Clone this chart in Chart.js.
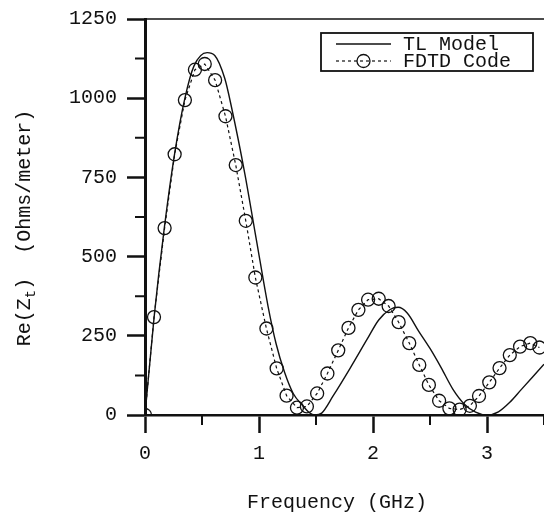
<!DOCTYPE html>
<html><head><meta charset="utf-8">
<script src="https://cdn.jsdelivr.net/npm/chart.js@4.4.1/dist/chart.umd.min.js"></script>
<style>html,body{margin:0;padding:0;background:#fff}#wrap{width:544px;height:517px;position:relative}</style>
</head><body><div id="wrap"><canvas id="c"></canvas></div>
<script>
// ---- data ----
const tlFreq = [0,0.08,0.17,0.26,0.35,0.43,0.545,0.612,0.70,0.758,0.875,0.977,1.079,1.15,1.225,1.3,1.385,1.44,1.49,1.55,1.65,1.8,1.95,2.05,2.15,2.22,2.3,2.4,2.5,2.6,2.7,2.8,2.9,3.0,3.1,3.2,3.3,3.4,3.5];
const tlRe   = [0,309,592,825,1000,1102,1144,1135,1062,973,763,553,344,225,134,68,29,8,0,6,60,148,240,300,333,340,322,265,210,148,82,35,9,0,10,40,80,120,160];
const fdtdFreq = [0,0.079,0.172,0.26,0.35,0.438,0.524,0.615,0.706,0.796,0.884,0.968,1.065,1.155,1.242,1.333,1.42,1.51,1.60,1.695,1.785,1.872,1.957,2.05,2.137,2.225,2.318,2.406,2.49,2.58,2.67,2.76,2.85,2.93,3.02,3.11,3.2,3.29,3.38,3.46];
const fdtdRe   = [0,309,590,823,994,1090,1108,1057,943,789,613,434,273,147,61,23,27,68,131,204,275,332,364,367,344,293,227,158,95,45,21,17,29,60,103,148,189,216,227,213];
const xMajorTicks = [0,1,2,3];
const xMinorTicks = [0.5,1.5,2.5,3.5];
const yMajorTicks = [0,250,500,750,1000,1250];
const yMinorTicks = [125,375,625,875,1125];
const seriesNames = ['TL Model','FDTD Code'];
const xTitle = 'Frequency (GHz)';
const yTitleParts = ['Re(Z','t',')  (Ohms/meter)'];

const FONT = "'Liberation Mono','Courier New',monospace";
const INK = '#111';

const decor = {
  id: 'decor',
  afterDraw(chart) {
    const ctx = chart.ctx, a = chart.chartArea;
    const xs = chart.scales.x, ys = chart.scales.y;
    ctx.save();
    ctx.strokeStyle = INK;
    // top frame
    ctx.lineWidth = 1.5;
    ctx.beginPath(); ctx.moveTo(a.left, a.top); ctx.lineTo(a.right, a.top); ctx.stroke();
    // minor ticks
    ctx.lineWidth = 2;
    ctx.beginPath();
    yMinorTicks.forEach(v => { const p = ys.getPixelForValue(v); ctx.moveTo(a.left - 10, p); ctx.lineTo(a.left, p); });
    xMinorTicks.forEach(v => { const p = xs.getPixelForValue(v); ctx.moveTo(p, a.bottom); ctx.lineTo(p, a.bottom + 10); });
    ctx.stroke();
    // legend
    const ds = chart.data.datasets;
    const bx = a.right - 223, by = a.top + 14, bw = 212, bh = 38;
    ctx.fillStyle = '#fff';
    ctx.fillRect(bx, by, bw, bh);
    ctx.lineWidth = 1.8;
    ctx.strokeRect(bx, by, bw, bh);
    const rows = [by + 11, by + 28];
    const sx0 = bx + 15, sx1 = bx + 70;
    ctx.font = '20px ' + FONT;
    ctx.fillStyle = INK;
    ctx.textBaseline = 'middle';
    ctx.textAlign = 'left';
    // row 1
    ctx.lineWidth = ds[0].borderWidth; ctx.setLineDash([]);
    ctx.beginPath(); ctx.moveTo(sx0, rows[0]); ctx.lineTo(sx1, rows[0]); ctx.stroke();
    ctx.fillText(ds[0].label, bx + 82, rows[0] + 1);
    // row 2
    ctx.lineWidth = ds[1].borderWidth; ctx.setLineDash(ds[1].borderDash);
    ctx.beginPath(); ctx.moveTo(sx0, rows[1]); ctx.lineTo(sx1, rows[1]); ctx.stroke();
    ctx.setLineDash([]);
    ctx.lineWidth = ds[1].pointBorderWidth;
    ctx.beginPath(); ctx.arc((sx0 + sx1) / 2, rows[1], ds[1].pointRadius, 0, Math.PI * 2); ctx.stroke();
    ctx.fillText(ds[1].label, bx + 82, rows[1] + 1);
    // x title
    ctx.textAlign = 'center';
    ctx.fillText(xTitle, 337, 503);
    // y title with subscript
    ctx.translate(25, 228);
    ctx.rotate(-Math.PI / 2);
    const f1 = '20px ' + FONT, f2 = '14px ' + FONT;
    ctx.font = f1; const w0 = ctx.measureText(yTitleParts[0]).width, w2 = ctx.measureText(yTitleParts[2]).width;
    ctx.font = f2; const w1 = ctx.measureText(yTitleParts[1]).width;
    let x = -(w0 + w1 + w2) / 2;
    ctx.textAlign = 'left';
    ctx.font = f1; ctx.fillText(yTitleParts[0], x, 0); x += w0;
    ctx.font = f2; ctx.fillText(yTitleParts[1], x, 6); x += w1;
    ctx.font = f1; ctx.fillText(yTitleParts[2], x, 0);
    ctx.restore();
  }
};

new Chart(document.getElementById('c'), {
  type: 'line',
  data: {
    datasets: [
      {
        label: seriesNames[0],
        data: tlFreq.map((f, i) => ({ x: f, y: tlRe[i] })),
        borderColor: INK, borderWidth: 1.4,
        pointRadius: 0, fill: false,
        cubicInterpolationMode: 'monotone'
      },
      {
        label: seriesNames[1],
        data: fdtdFreq.map((f, i) => ({ x: f, y: fdtdRe[i] })),
        borderColor: INK, borderWidth: 1.2, borderDash: [3, 3],
        pointRadius: 6.5, pointBorderWidth: 1.3,
        pointBorderColor: INK, pointBackgroundColor: 'rgba(0,0,0,0)',
        pointStyle: 'circle', tension: 0, fill: false
      }
    ]
  },
  options: {
    responsive: true, maintainAspectRatio: false, animation: false,
    layout: { autoPadding: false, padding: { top: 19, left: 0, right: 0, bottom: 0 } },
    plugins: { legend: { display: false }, tooltip: { enabled: false } },
    scales: {
      x: {
        type: 'linear', min: 0, max: 3.5,
        afterBuildTicks: s => { s.ticks = xMajorTicks.map(v => ({ value: v })); },
        afterFit: s => { s.height = 102; s.paddingLeft = 0; s.paddingRight = 0; },
        ticks: { color: INK, font: { family: FONT, size: 20 }, padding: 9, maxRotation: 0, callback: v => String(v) },
        grid: { drawOnChartArea: false, drawTicks: true, tickLength: 18, tickColor: INK, tickWidth: 2.5 },
        border: { display: true, color: INK, width: 2.5 },
        title: { display: false }
      },
      y: {
        type: 'linear', min: 0, max: 1250,
        afterBuildTicks: s => { s.ticks = yMajorTicks.map(v => ({ value: v })); },
        afterFit: s => { s.width = 145; s.paddingTop = 0; s.paddingBottom = 0; },
        ticks: { color: INK, font: { family: FONT, size: 20 }, padding: 10, callback: v => String(v) },
        grid: { drawOnChartArea: false, drawTicks: true, tickLength: 18, tickColor: INK, tickWidth: 2.5 },
        border: { display: true, color: INK, width: 3 },
        title: { display: false }
      }
    }
  },
  plugins: [decor]
});
</script>
</body></html>
